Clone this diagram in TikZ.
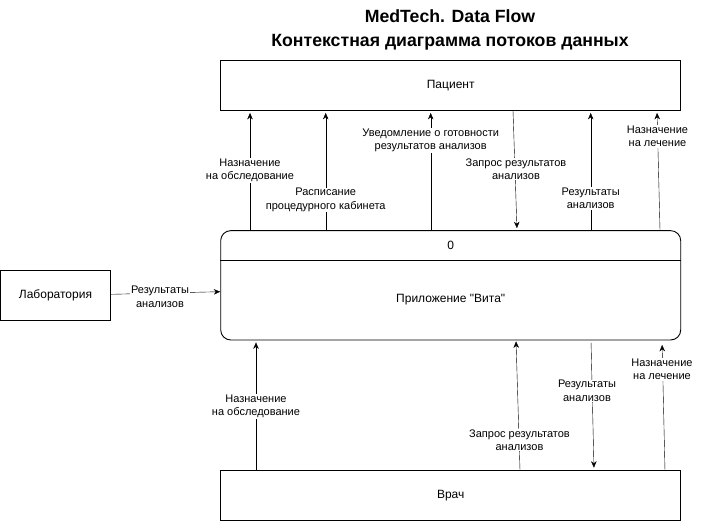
\documentclass[tikz,border=0pt]{standalone}
\usepackage{fontspec}
\setmainfont{Liberation Sans}[Ligatures=TeXOff]
\usepackage{tikz}
\usetikzlibrary{calc,backgrounds}
\usetikzlibrary{arrows.meta}
\tikzstyle{dfd}=[
  x=1pt,y=-1pt,line width=0.9pt,font=\fontsize{11}{13.5}\selectfont
]
\tikzstyle{entity}=[
  draw,rectangle,inner sep=0pt,minimum width=460pt,minimum height=49.3pt,font=\fontsize{12}{14}\selectfont
]
\tikzstyle{process}=[
  draw,rectangle,rounded corners=10pt,inner sep=0pt,minimum width=460pt,minimum height=109.3pt
]
\tikzstyle{proctext}=[
  inner sep=0pt,font=\fontsize{12}{14}\selectfont
]
\tikzstyle{flowlabel}=[
  fill=white,inner sep=0.8pt,align=center
]
\tikzset{
  flow/.style={-{Stealth[length=6.5pt,width=5.5pt]}},
}

\begin{document}
\begin{tikzpicture}[dfd]
        \useasboundingbox (0,0) rectangle (722,522);
        \node (title) at (450,30) [align=center,font=\fontsize{17.7}{24}\selectfont\bfseries] {MedTech. Data Flow\\Контекстная диаграмма потоков данных};
        \node (patient) at (450.7,85.3) [entity] {Пациент};
        \node (app) at (450.7,285.3) [process] {};
        \node (appnum) at (450.7,245.7) [proctext] {0};
        \node (appname) at (450.7,300) [proctext] {Приложение "Вита"};
        \node (lab) at (55.5,295) [entity,minimum width=110pt,minimum height=50pt] {Лаборатория};
        \node (doctor) at (450.7,495.3) [entity] {Врач};

        % labels above the process
        \node (pl1) at (250,170.5) [flowlabel] {Назначение\\на обследование};
        \node (pl2) at (325.7,200) [flowlabel] {Расписание\\процедурного кабинета};
        \node (pl3) at (430.7,140.5) [flowlabel] {Уведомление о готовности\\результатов анализов};
        \node (pl4) at (516,169) [flowlabel] {Запрос результатов\\анализов};
        \node (pl5) at (590.7,198.5) [flowlabel] {Результаты\\анализов};
        \node (pl6) at (657.5,136.5) [flowlabel] {Назначение\\на лечение};
        % labels below the process
        \node (dl1) at (256,406.3) [flowlabel] {Назначение\\на обследование};
        \node (dl2) at (519.5,440) [flowlabel] {Запрос результатов\\анализов};
        \node (dl3) at (587,391) [flowlabel] {Результаты\\анализов};
        \node (dl4) at (662,369.5) [flowlabel] {Назначение\\на лечение};
        \node (ll) at (160,296.7) [flowlabel] {Результаты\\анализов};

        \begin{scope}[on background layer]
          \draw [flow] (lab.east |- 0,294.3) -- (app.west |- 0,291.7);
          \draw ($(app.north west)+(0,30)$) -- ($(app.north east)+(0,30)$);

          \draw [flow,shorten >=2.5pt] (app.north -| 250,0) -- (patient.south -| 250,0);
          \draw [flow,shorten >=2.5pt] (app.north -| 325.7,0) -- (patient.south -| 325.7,0);
          \draw [flow,shorten >=2.5pt] (app.north -| 430.7,0) -- (patient.south -| 430.7,0);
          \draw [flow,shorten >=2pt] (patient.south -| 513,0) -- (app.north -| 517,0);
          \draw [flow,shorten >=2.5pt] (app.north -| 590.7,0) -- (patient.south -| 590.7,0);
          \draw [flow,shorten >=2.5pt] (app.north -| 660,0) -- (patient.south -| 657,0);

          \draw [flow,shorten >=2pt] (doctor.north -| 256,0) -- (app.south -| 256,0);
          \draw [flow,shorten >=1pt] (doctor.north -| 520,0) -- (app.south -| 516,0);
          \draw [flow,shorten <=2.5pt,shorten >=2.5pt] (app.south -| 591,0) -- (doctor.north -| 594,0);
          \draw [flow,shorten >=4.5pt] ($(doctor.north -| 665,0)+(0,1)$) -- (app.south -| 662,0);
        \end{scope}
\end{tikzpicture}
\end{document}
